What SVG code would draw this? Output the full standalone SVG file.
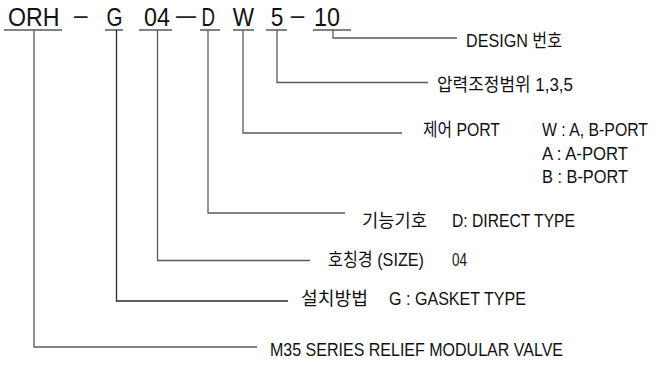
<svg xmlns="http://www.w3.org/2000/svg" width="656" height="366" viewBox="0 0 656 366">
<style>
text{font-family:"Liberation Sans","Noto Sans CJK KR",Arial,sans-serif;fill:#111}
.code{font-size:25px}
.dash{font-size:25px;fill:#222}
.lbl{font-size:18.5px}
.ln{fill:none;stroke:#5a5a5a;stroke-width:1.3}
</style>
<rect width="656" height="366" fill="#fff"/>
<g id="code">
<text class="code" x="8" y="26" textLength="51.5" lengthAdjust="spacingAndGlyphs">ORH</text>
<text class="dash" transform="translate(74,23.6) scale(0.54,1)">—</text>
<text class="code" x="106.5" y="26" textLength="16" lengthAdjust="spacingAndGlyphs">G</text>
<text class="code" x="144" y="26" textLength="26" lengthAdjust="spacingAndGlyphs">04</text>
<text class="dash" transform="translate(176,23.6) scale(0.8,1)">—</text>
<text class="code" x="201.5" y="26" textLength="13.5" lengthAdjust="spacingAndGlyphs">D</text>
<text class="code" x="232.7" y="26" textLength="21.3" lengthAdjust="spacingAndGlyphs">W</text>
<text class="code" x="270.7" y="26" textLength="12.6" lengthAdjust="spacingAndGlyphs">5</text>
<text class="dash" transform="translate(290.7,23.6) scale(0.54,1)">—</text>
<text class="code" x="314" y="26" textLength="26" lengthAdjust="spacingAndGlyphs">10</text>
</g>
<g id="connectors">
<path class="ln" d="M4,30H62M105,30H123M139,30H172M200,30H220M233,30H254M266,30H287M313,30H351"/>
<path class="ln" d="M333,30V38H457"/>
<path class="ln" d="M277,30V82.5H428"/>
<path class="ln" d="M243,30V133H402"/>
<path class="ln" d="M208,30V213H345"/>
<path class="ln" d="M157.5,30V260.5H310"/>
<path class="ln" d="M116.5,30V301H288" style="stroke:#2a2a2a"/>
<path class="ln" d="M34,30V347H257"/>
</g>
<g id="design">
<text class="lbl" x="466" y="46.5" textLength="96" lengthAdjust="spacingAndGlyphs">DESIGN 번호</text>
</g>
<g id="pressure">
<text class="lbl" x="437" y="91" textLength="136" lengthAdjust="spacingAndGlyphs">압력조정범위 1,3,5</text>
</g>
<g id="port">
<text class="lbl" x="423" y="136" textLength="77" lengthAdjust="spacingAndGlyphs">제어 PORT</text>
<text class="lbl" transform="translate(542,136) scale(0.855,1)" x="0" y="0">W : A, B-PORT</text>
<text class="lbl" x="542" y="159.5" textLength="86" lengthAdjust="spacingAndGlyphs">A : A-PORT</text>
<text class="lbl" x="542" y="183" textLength="86" lengthAdjust="spacingAndGlyphs">B : B-PORT</text>
</g>
<g id="function">
<text class="lbl" x="362" y="226.5" textLength="65" lengthAdjust="spacingAndGlyphs">기능기호</text>
<text class="lbl" x="452" y="226.5" textLength="123" lengthAdjust="spacingAndGlyphs">D: DIRECT TYPE</text>
</g>
<g id="size">
<text class="lbl" x="328" y="266" textLength="96" lengthAdjust="spacingAndGlyphs">호칭경 (SIZE)</text>
<text class="lbl" x="452" y="266" textLength="15" lengthAdjust="spacingAndGlyphs">04</text>
</g>
<g id="mounting">
<text class="lbl" x="301" y="305" textLength="67" lengthAdjust="spacingAndGlyphs">설치방법</text>
<text class="lbl" x="389" y="305" textLength="137" lengthAdjust="spacingAndGlyphs">G : GASKET TYPE</text>
</g>
<g id="series">
<text class="lbl" x="270" y="355.5" textLength="293" lengthAdjust="spacingAndGlyphs">M35 SERIES RELIEF MODULAR VALVE</text>
</g>
</svg>
